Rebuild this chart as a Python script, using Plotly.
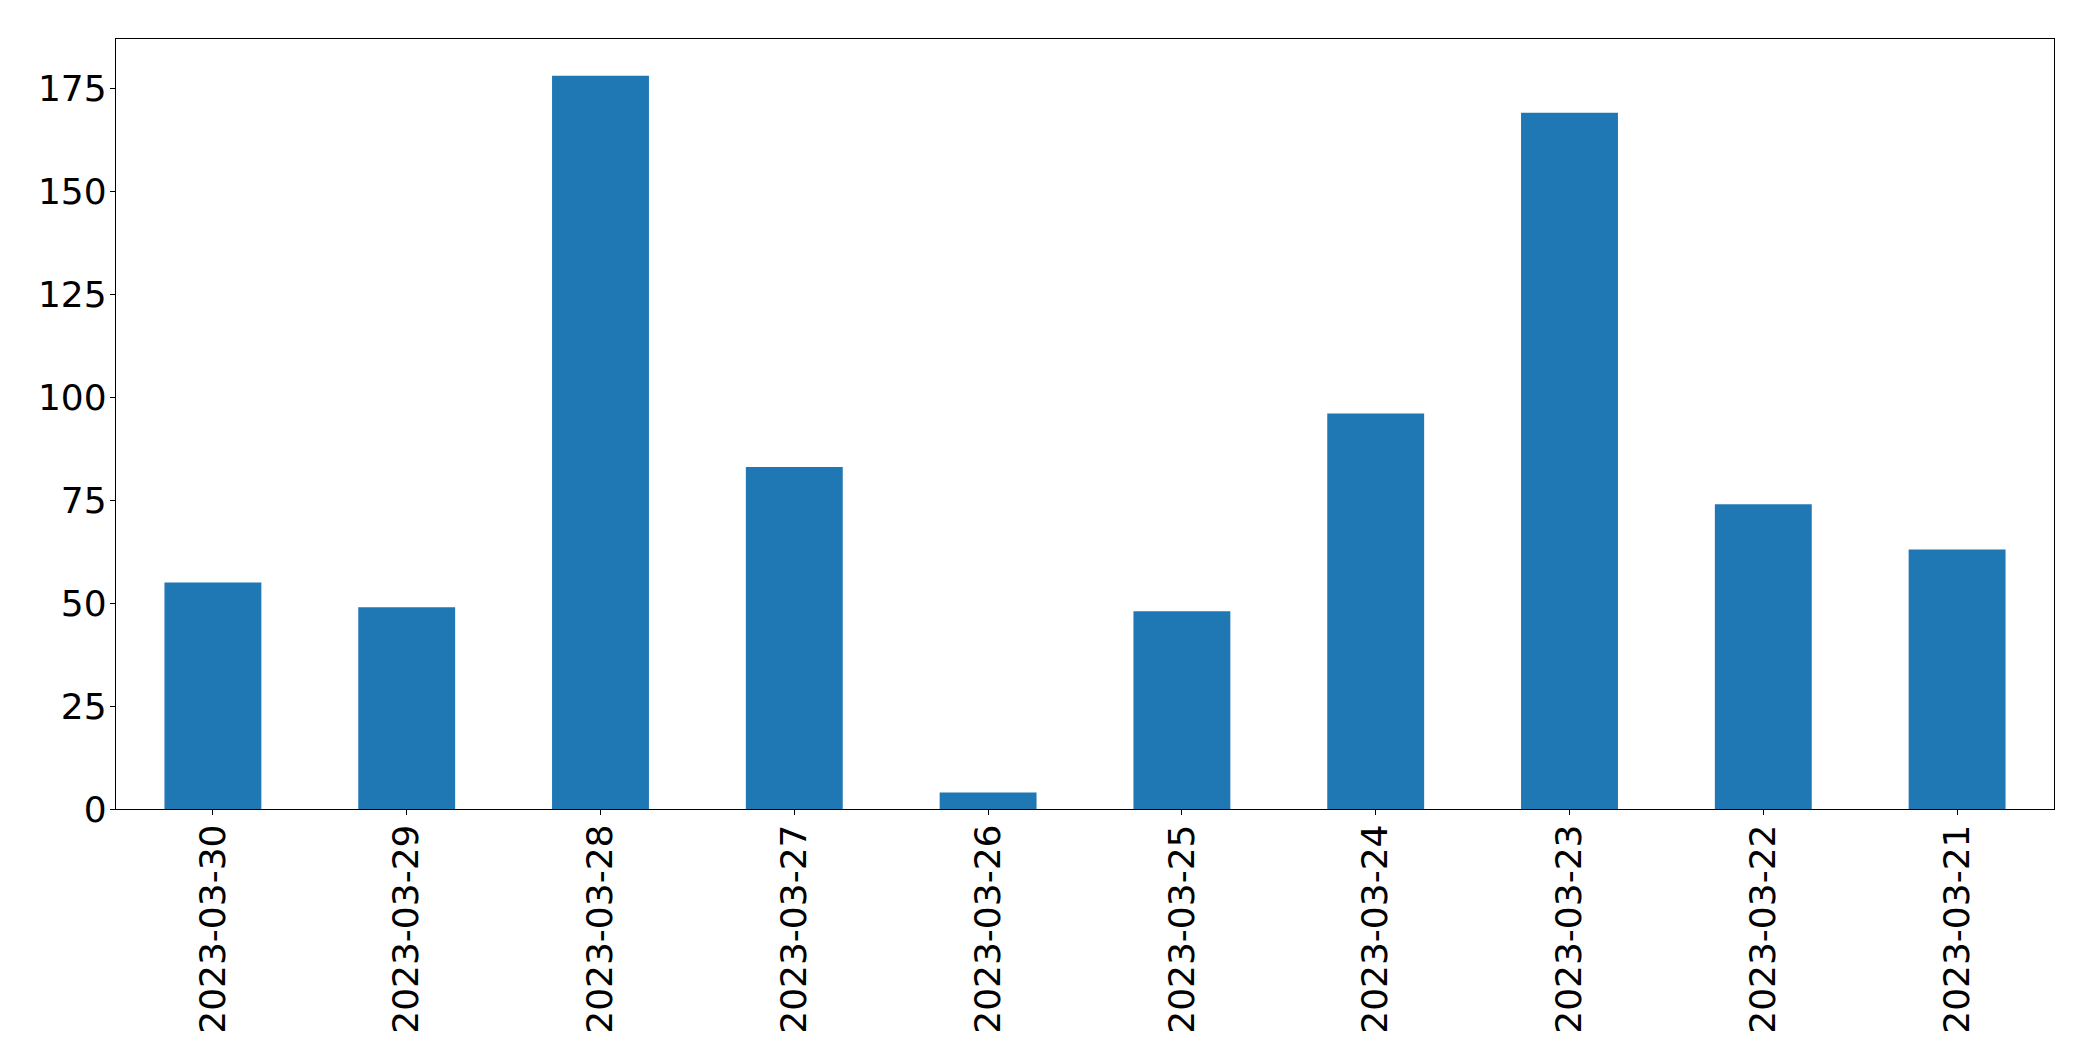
import plotly.graph_objects as go

dates = ["2023-03-30", "2023-03-29", "2023-03-28", "2023-03-27", "2023-03-26",
         "2023-03-25", "2023-03-24", "2023-03-23", "2023-03-22", "2023-03-21"]
counts = [55, 49, 178, 83, 4, 48, 96, 169, 74, 63]
y_ticks = [0, 25, 50, 75, 100, 125, 150, 175]

fig = go.Figure(go.Bar(x=dates, y=counts, width=0.5, marker=dict(color="#1f77b4", line=dict(width=0))))

font = dict(family="DejaVu Sans", size=36, color="black")
fig.update_layout(
    width=2085, height=1053, autosize=False,
    margin=dict(l=108, r=39, t=31, b=252),
    plot_bgcolor="white", paper_bgcolor="white",
    font=font, showlegend=False, bargap=0.5,
)
fig.update_xaxes(
    type="category", range=[-0.5, 9.5], tickangle=-90,
    showline=True, mirror=True, linecolor="black", linewidth=1.3,
    ticks="outside", ticklen=5, tickwidth=1.3, tickcolor="black",
    showgrid=False, tickfont=font, ticklabelstandoff=-5,
)
fig.update_yaxes(
    range=[0, 178 * 1.05], tickvals=y_ticks,
    showline=True, mirror=True, linecolor="black", linewidth=1.3,
    ticks="outside", ticklen=5, tickwidth=1.3, tickcolor="black",
    showgrid=False, zeroline=False, tickfont=font, ticklabelstandoff=-4,
)
fig.write_html("out.html")
